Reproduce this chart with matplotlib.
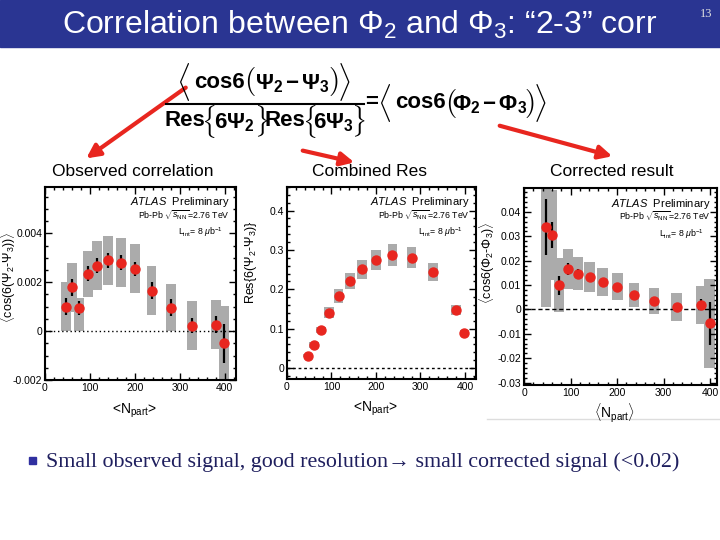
import matplotlib.pyplot as plt
from matplotlib.patches import Rectangle, FancyArrowPatch
from matplotlib.ticker import MultipleLocator, FuncFormatter

plt.rcParams['font.family'] = ['Liberation Sans', 'DejaVu Sans']
plt.rcParams['mathtext.fontset'] = 'custom'
plt.rcParams['mathtext.rm'] = 'Liberation Sans'
plt.rcParams['mathtext.it'] = 'Liberation Sans:italic'
plt.rcParams['mathtext.bf'] = 'Liberation Sans:bold'

# centrality bins (<Npart>)
npart = [47, 61, 76, 95, 116, 141, 169, 201, 237, 280, 328, 380, 399]

# observed correlation
obs = [0.00100, 0.00180, 0.00095, 0.00235, 0.00268, 0.00290, 0.00280,
       0.00255, 0.00165, 0.00095, 0.00022, 0.00027, -0.00050]
obs_stat = [0.00035, 0.00035, 0.00030, 0.00030, 0.00030, 0.00030, 0.00030,
            0.00030, 0.00035, 0.00035, 0.00030, 0.00035, 0.00080]
obs_sys_lo = [0.0000, 0.00080, 0.0000, 0.00140, 0.00170, 0.00190, 0.00180,
              0.00155, 0.00065, 0.0000, -0.00078, -0.00073, -0.00200]
obs_sys_hi = [0.0020, 0.00280, 0.00135, 0.00330, 0.00370, 0.00390, 0.00380,
              0.00355, 0.00265, 0.00195, 0.00122, 0.00127, 0.00103]

# combined resolution
res = [0.031, 0.059, 0.097, 0.141, 0.183, 0.221, 0.251, 0.274, 0.286,
       0.280, 0.243, 0.147, 0.089]
res_sys = [0.004, 0.007, 0.008, 0.014, 0.017, 0.020, 0.024, 0.026, 0.028,
           0.027, 0.023, 0.013, 0.007]

# corrected result
corr = [0.0337, 0.0305, 0.0099, 0.0166, 0.0147, 0.0133, 0.0112, 0.0093,
        0.0060, 0.0035, 0.0008, 0.0019, -0.0057]
corr_stat = [0.0115, 0.0055, 0.0038, 0.0023, 0.0017, 0.0012, 0.0010, 0.0009,
             0.0007, 0.0006, 0.0006, 0.0023, 0.0088]
corr_sys_lo = [0.0010, 0.0120, -0.0012, 0.0085, 0.0080, 0.0072, 0.0055,
               0.0040, 0.0010, -0.0018, -0.0047, -0.0060, -0.0240]
corr_sys_hi = [0.0660, 0.0490, 0.0210, 0.0248, 0.0215, 0.0193, 0.0170,
               0.0148, 0.0110, 0.0088, 0.0067, 0.0098, 0.0123]

RED = '#e8261f'
GRAY = '#ababab'

fig = plt.figure(figsize=(7.2, 5.4), dpi=100)

# slide layer in pixel coordinates
bg = fig.add_axes([0, 0, 1, 1], zorder=0)
bg.set_xlim(0, 720)
bg.set_ylim(540, 0)
bg.axis('off')

bg.add_patch(Rectangle((0, 0), 720, 47, color='#2a3592'))
bg.text(360, 25, 'Correlation between \u03a6$_2$ and \u03a6$_3$: \u201c2-3\u201d corr',
        color='white', fontsize=23, ha='center', va='center')
bg.text(706, 14, '13', color='#e0e0e0', fontsize=9, ha='center', va='center',
        family='Liberation Serif')


# formula, built piece by piece so the delimiters can be tall
def delim(x, y, s, size):
    bg.text(x, y, '$' + s + '$', fontsize=size, ha='center', va='center',
            math_fontfamily='cm')


def body(x, y, s):
    bg.text(x, y, s, fontsize=16, ha='center', va='center', fontweight='bold')


yn, yd, yr = 82, 121, 103
delim(183, yn, r'\langle', 22)
body(219, yn, 'cos6')
delim(250, yn, '(', 21)
body(292, yn + 2, r'$\mathbf{\Psi_2}\,\mathbf{-}\,\mathbf{\Psi_3}$')
delim(333, yn, ')', 21)
delim(344, yn, r'\rangle', 22)
bg.plot([166, 364], [104, 104], color='black', lw=1.5)
body(185, yd, 'Res')
delim(208, yd, r'\{', 19)
body(234, yd + 2, r'$\mathbf{6\Psi_2}$')
delim(261, yd, r'\}', 19)
body(285, yd, 'Res')
delim(309, yd, r'\{', 19)
body(333, yd + 2, r'$\mathbf{6\Psi_3}$')
delim(358, yd, r'\}', 19)
body(372, yr, '=')
delim(384, yr, r'\langle', 22)
body(420, yr, 'cos6')
delim(451, yr, '(', 21)
body(490, yr + 2, r'$\mathbf{\Phi_2}\,\mathbf{-}\,\mathbf{\Phi_3}$')
delim(529, yr, ')', 21)
delim(540, yr, r'\rangle', 22)

for (x0, y0, x1, y1) in [(188, 86, 84, 160), (300, 150, 357, 163), (497, 125, 615, 157)]:
    bg.add_patch(FancyArrowPatch((x0, y0), (x1, y1), arrowstyle='-|>',
                                 mutation_scale=20, lw=3, color=RED))

bg.text(133, 171, 'Observed correlation', fontsize=12.5, ha='center', va='center')
bg.text(370, 171, 'Combined Res', fontsize=12.5, ha='center', va='center')
bg.text(612, 171, 'Corrected result', fontsize=12.5, ha='center', va='center')

bg.add_patch(Rectangle((29, 457), 7, 7, color='#3030a0'))
bg.text(46, 462, 'Small observed signal, good resolution\u2192 small corrected signal (<0.02)',
        fontsize=15.8, ha='left', va='center', color='#1f1f5e',
        family=['Liberation Serif', 'DejaVu Serif'])
bg.plot([487, 720], [419, 419], color='#dddddd', lw=1)

fmt = FuncFormatter(lambda v, p: '%g' % round(v, 6))


def style(ax, xlab, ylab, ylx, yly, xly):
    ax.set_xlim(0, 425)
    ax.xaxis.set_major_locator(MultipleLocator(100))
    ax.xaxis.set_minor_locator(MultipleLocator(20))
    ax.yaxis.set_major_formatter(fmt)
    ax.tick_params(which='both', direction='in', top=True, right=True,
                   labelsize=7.5, width=1, pad=2)
    ax.tick_params(which='major', length=5)
    ax.tick_params(which='minor', length=2.5)
    for s in ax.spines.values():
        s.set_linewidth(1.5)
    ax.set_xlabel(xlab, fontsize=10)
    ax.set_ylabel(ylab, fontsize=9)
    ax.yaxis.set_label_coords(ylx, yly)
    ax.xaxis.set_label_coords(0.47, xly)
    ax.text(0.965, 0.92, r'$\mathbf{\mathit{ATLAS}}$  Preliminary', transform=ax.transAxes,
            fontsize=8, ha='right', va='center')
    ax.text(0.965, 0.855, r'Pb-Pb $\sqrt{s_{\rm NN}}$=2.76 TeV', transform=ax.transAxes,
            fontsize=6.3, ha='right', va='center')
    ax.text(0.93, 0.765, r'L$_{\rm int}$= 8 $\mu$b$^{-1}$', transform=ax.transAxes,
            fontsize=6.3, ha='right', va='center')


# observed correlation
ax1 = fig.add_axes([45 / 720, 1 - 380 / 540, 191 / 720, 193 / 540], zorder=2)
ax1.bar(npart, [h - l for h, l in zip(obs_sys_hi, obs_sys_lo)], bottom=obs_sys_lo,
        width=22, color=GRAY, zorder=1)
ax1.axhline(0, color='black', lw=1, ls=(0, (1, 2)), zorder=2)
ax1.errorbar(npart, obs, yerr=obs_stat, fmt='o', color=RED, ms=6.5, ecolor='black',
             elinewidth=1.6, capsize=0, zorder=3)
ax1.set_ylim(-0.002, 0.0059)
ax1.yaxis.set_major_locator(MultipleLocator(0.002))
ax1.yaxis.set_minor_locator(MultipleLocator(0.0005))
style(ax1, r'<N$_{\rm part}$>', r'$\langle$cos(6($\Psi_2$-$\Psi_3$))$\rangle$', -0.14, 0.53, -0.11)

# combined resolution
ax2 = fig.add_axes([287 / 720, 1 - 379 / 540, 189 / 720, 192 / 540], zorder=2)
ax2.bar(npart, [2 * s for s in res_sys], bottom=[r - s for r, s in zip(res, res_sys)],
        width=22, color=GRAY, zorder=1)
ax2.axhline(0, color='black', lw=1, ls=(0, (2, 2)), zorder=2)
ax2.plot(npart, res, 'o', color=RED, ms=6.5, zorder=3)
ax2.set_ylim(-0.028, 0.46)
ax2.yaxis.set_major_locator(MultipleLocator(0.1))
ax2.yaxis.set_minor_locator(MultipleLocator(0.02))
style(ax2, r'<N$_{\rm part}$>', r'Res{6($\Psi_2$-$\Psi_3$)}', -0.15, 0.61, -0.11)

# corrected result
ax3 = fig.add_axes([524 / 720, 1 - 385 / 540, 193 / 720, 197 / 540], zorder=2)
ax3.bar(npart, [h - l for h, l in zip(corr_sys_hi, corr_sys_lo)], bottom=corr_sys_lo,
        width=22, color=GRAY, zorder=1)
ax3.axhline(0, color='black', lw=1, ls=(0, (3, 2)), zorder=2)
ax3.errorbar(npart, corr, yerr=corr_stat, fmt='o', color=RED, ms=6.5, ecolor='black',
             elinewidth=1.6, capsize=0, zorder=3)
ax3.set_ylim(-0.031, 0.0498)
ax3.yaxis.set_major_locator(MultipleLocator(0.01))
ax3.yaxis.set_minor_locator(MultipleLocator(0.002))
style(ax3, r'$\langle$N$_{\rm part}\rangle$', r'$\langle$cos6($\Phi_2$-$\Phi_3$)$\rangle$', -0.14, 0.62, -0.08)
ax3.set_xlim(0, 415)

fig.savefig('out.png', dpi=100)
